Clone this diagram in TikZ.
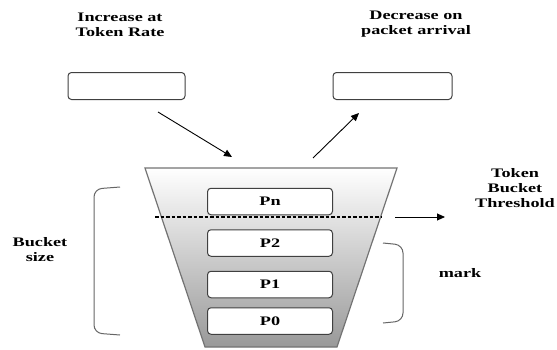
\documentclass[tikz,border=0pt]{standalone}
\usepackage{fontspec}
\setmainfont{Liberation Serif}
\usepackage{graphicx}
\usepackage{tikz}
\usetikzlibrary{positioning,arrows.meta}
\newcommand{\etire}[1]{\scalebox{1.4}[1]{#1}}

\begin{document}
\begin{tikzpicture}[x=1pt,y=1pt]
  \tikzset{
    node distance=14pt and 0pt,
    texte/.style={align=center,font=\fontsize{13}{15}\selectfont\bfseries,text=black},
    boite/.style={draw=black!75,fill=white,line width=1pt,rounded corners=3.5pt,
      minimum height=27pt,inner sep=0pt,texte},
    boite paquet/.style={boite,minimum width=125pt,minimum height=26.5pt},
    fleche/.style={-{Triangle[length=8pt,width=7pt]},line width=0.9pt,draw=black},
    seuil/.style={line width=1.6pt,dash pattern=on 3.5pt off 2pt,draw=black},
    accolade/.style={draw=black!60,line width=1pt,rounded corners=8pt},
  }
  \useasboundingbox (0,0) rectangle (557,349);

  % the bucket
  \coordinate (hg) at (145,181);
  \coordinate (hd) at (397,181);
  \coordinate (bd) at (337,2);
  \coordinate (bg) at (205,2);
  \shadedraw[top color=white,bottom color=black!40,draw=black!55,line width=1.2pt]
    (hg) -- (hd) -- (bd) -- (bg) -- cycle;

  \node[texte] (ta) at (120,324.5) {\etire{Increase at}\\\etire{Token Rate}};
  \node[texte] (tb) at (416,324.5) {\etire{Decrease on}\\\etire{packet arrival}};
  \node[boite,minimum width=117pt] (a) at (126.5,263) {};
  \node[boite,minimum width=119pt] (b) at (392.5,263) {};

  \node[boite paquet] (pn) at (270,147.5) {\etire{Pn}};
  \node[boite paquet,below=of pn] (p2) {\etire{P2}};
  \node[boite paquet,below=of p2] (p1) {\etire{P1}};
  \node[boite paquet,below=9pt of p1] (p0) {\etire{P0}};

  \coordinate (sa) at (155,132);
  \coordinate (sb) at (382,132);
  \draw[seuil] (sa) -- (sb);
  \node[texte] (tc) at (515,161) {\etire{Token}\\\etire{Bucket}\\\etire{Threshold}};
  \draw[fleche] ([xshift=13pt]sb) -- ([xshift=63pt]sb);

  \node[texte] (bs) at (40,99) {\etire{Bucket}\\\etire{size}};
  \node[texte] (m) at (460,76) {\etire{mark}};
  \draw[accolade] (120,162) -- (94,160) -- (94,16) -- (120,14);
  \draw[accolade] (383,106) -- (403,104) -- (403,28) -- (383,26);

  \coordinate (entree) at (232,192);
  \coordinate (sortie) at (313,191);
  \draw[fleche] ([xshift=31.5pt,yshift=-12pt]a.south) -- (entree);
  \draw[fleche] (sortie) -- ([xshift=-33.5pt,yshift=-13pt]b.south);
\end{tikzpicture}
\end{document}
